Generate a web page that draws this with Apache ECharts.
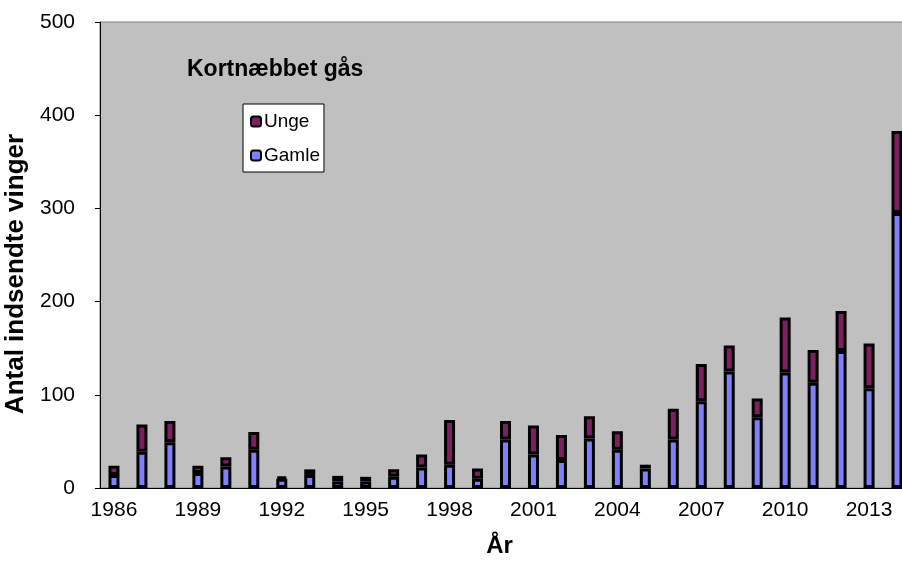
<!DOCTYPE html>
<html>
<head>
<meta charset="utf-8">
<script src="https://cdn.jsdelivr.net/npm/echarts@6/dist/echarts.min.js"></script>
<style>
  html, body { margin: 0; padding: 0; background: #fff; }
  #chart { width: 902px; height: 566px; }
</style>
</head>
<body>
<div id="chart"></div>
<script>
// år og antal indsendte vinger
var years = ['1986', '1987', '1988', '1989', '1990', '1991', '1992', '1993', '1994', '1995',
  '1996', '1997', '1998', '1999', '2000', '2001', '2002', '2003', '2004', '2005',
  '2006', '2007', '2008', '2009', '2010', '2011', '2012', '2013', '2014']
var gamle = [14, 39, 49, 16, 23, 41, 10, 14, 7, 7, 12, 22, 25, 10, 52, 36, 30, 53, 41, 21,
  52, 93, 125, 76, 124, 113, 147, 107, 295]
var unge = [10, 29, 23, 8, 10, 19, 2, 6, 6, 5, 8, 14, 48, 11, 20, 31, 27, 24, 20, 4,
  33, 40, 28, 20, 59, 35, 43, 48, 88]
var yTicks = [0, 100, 200, 300, 400, 500]

var font = 'Liberation Sans, Arial, sans-serif'
var chart = echarts.init(document.getElementById('chart'))

chart.setOption({
  animation: false,
  title: {
    text: 'Kortnæbbet gås',
    left: 187,
    top: 58,
    padding: 0,
    textStyle: { fontFamily: font, fontSize: 23, fontWeight: 'bold', color: '#000' }
  },
  legend: {
    data: ['Unge', 'Gamle'],
    orient: 'vertical',
    left: 243,
    top: 104,
    padding: [8, 4, 7, 7],
    itemGap: 15,
    itemWidth: 10,
    itemHeight: 10,
    backgroundColor: '#fff',
    borderColor: '#000',
    borderWidth: 1,
    textStyle: { fontFamily: font, fontSize: 19, color: '#000', padding: [0, 0, 0, -2] }
  },
  grid: {
    left: 100,
    top: 22,
    width: 811, // sidste søjle skæres af i højre kant
    bottom: 78,
    outerBoundsMode: 'none',
    containLabel: false,
    show: true,
    backgroundColor: '#C0C0C0',
    borderColor: '#808080',
    borderWidth: 1
  },
  xAxis: {
    type: 'category',
    data: years,
    name: 'År',
    nameLocation: 'middle',
    nameGap: 46,
    nameTextStyle: { fontFamily: font, fontSize: 24, fontWeight: 'bold', color: '#000', padding: [0, 12, 0, 0] },
    axisLine: { lineStyle: { color: '#000', width: 1 } },
    axisTick: { interval: 0, length: 5, lineStyle: { color: '#000' } },
    axisLabel: { interval: 2, margin: 12, fontFamily: font, fontSize: 21, color: '#000' }
  },
  yAxis: {
    type: 'value',
    min: 0,
    max: 500,
    interval: 100,
    name: 'Antal indsendte vinger',
    nameLocation: 'middle',
    nameGap: 62,
    nameTextStyle: { fontFamily: font, fontSize: 26, fontWeight: 'bold', color: '#000', padding: [0, 38, 0, 0] },
    axisLine: { show: true, lineStyle: { color: '#000', width: 1 } },
    axisTick: { show: true, length: 5, lineStyle: { color: '#000' } },
    splitLine: { show: false },
    axisLabel: {
      margin: 25,
      fontFamily: font,
      fontSize: 21,
      color: '#000',
      formatter: function (v) { return yTicks.indexOf(v) >= 0 ? String(v) : '' }
    }
  },
  series: [
    {
      name: 'Gamle',
      type: 'bar',
      stack: 'total',
      barWidth: 11,
      data: gamle,
      itemStyle: { color: '#8080FF', borderColor: '#000', borderWidth: 3 }
    },
    {
      name: 'Unge',
      type: 'bar',
      stack: 'total',
      barWidth: 11,
      data: unge,
      itemStyle: { color: '#801F60', borderColor: '#000', borderWidth: 3 }
    }
  ]
})
</script>
</body>
</html>
